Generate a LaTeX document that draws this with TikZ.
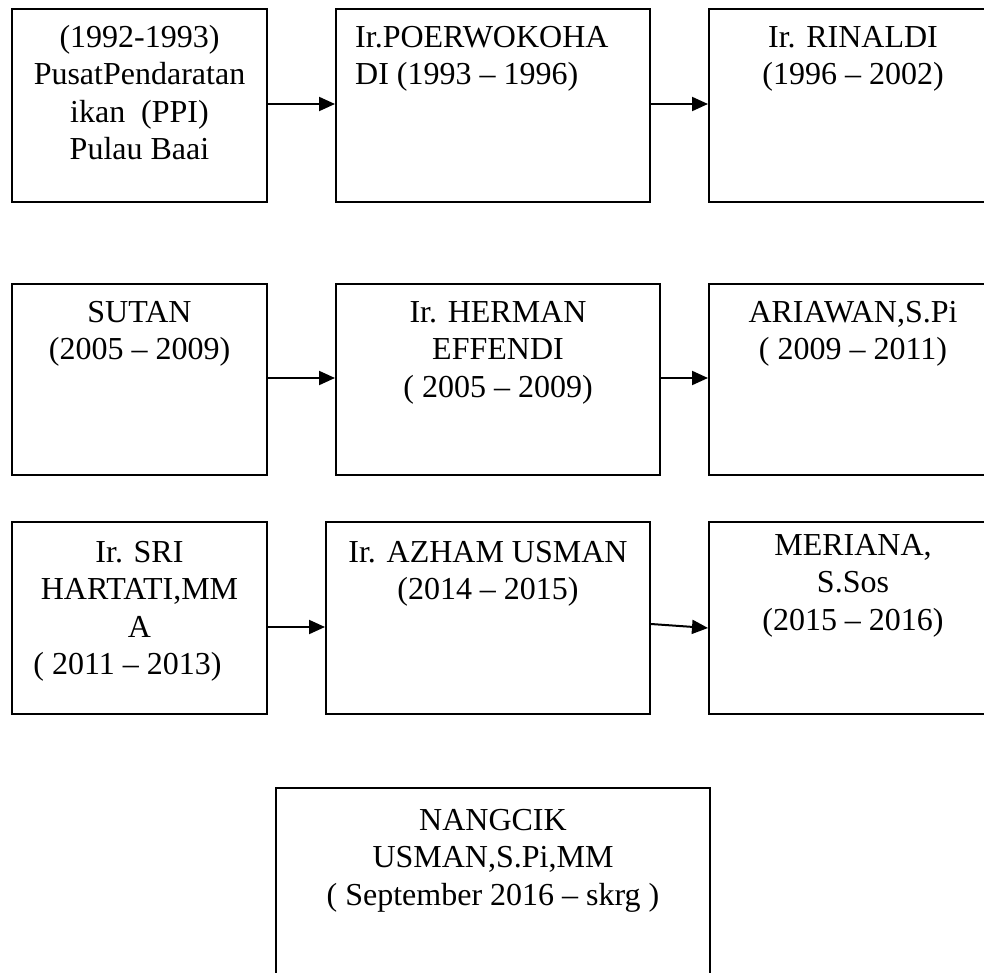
\documentclass[tikz,border=0pt]{standalone}
\usepackage{fontspec}
\setmainfont{Liberation Serif}
\usetikzlibrary{arrows.meta,calc}
\tikzset{
  box/.style={draw=black, line width=2pt, anchor=north west, inner sep=0pt, rectangle},
  txt/.style={inner sep=0pt, anchor=north, align=center, font=\fontsize{32}{37.5}\selectfont},
  arr/.style={draw=black, line width=2pt, -{Triangle[length=16pt,width=14pt]}},
}
\begin{document}
\begin{tikzpicture}[x=1pt,y=-1pt]
\useasboundingbox (0,0) rectangle (984,973);
\clip (0,0) rectangle (984,973);
% boxes
\node[box, minimum width=255pt, minimum height=193pt] (b1) at (11,8) {};
\node[box, minimum width=314pt, minimum height=193pt] (b2) at (335,8) {};
\node[box, minimum width=288pt, minimum height=193pt] (b3) at (708,8) {};
\node[box, minimum width=255pt, minimum height=191pt] (b4) at (11,283) {};
\node[box, minimum width=324pt, minimum height=191pt] (b5) at (335,283) {};
\node[box, minimum width=288pt, minimum height=191pt] (b6) at (708,283) {};
\node[box, minimum width=255pt, minimum height=192pt] (b7) at (11,521) {};
\node[box, minimum width=324pt, minimum height=192pt] (b8) at (325,521) {};
\node[box, minimum width=288pt, minimum height=192pt] (b9) at (708,521) {};
\node[box, minimum width=434pt, minimum height=210pt] (b10) at (275,787) {};
% texts
\node[txt] (t1) at ($(b1.north)+(0,13)$) {\strut(1992-1993)\\PusatPendaratan\\ikan~ (PPI)\\Pulau Baai};
\node[txt, anchor=north west, align=left] (t2) at (355,21) {\strut Ir.POERWOKOHA\\DI (1993 \textendash{} 1996)};
\node[txt] (t3) at ($(b3.north)+(0,13)$) {\strut Ir. RINALDI\\(1996 \textendash{} 2002)};
\node[txt] (t4) at ($(b4.north)+(0,13)$) {\strut SUTAN\\(2005 \textendash{} 2009)};
\node[txt] (t5) at ($(b5.north)+(0,13)$) {\strut Ir. HERMAN\\EFFENDI\\( 2005 \textendash{} 2009)};
\node[txt] (t6) at ($(b6.north)+(0,13)$) {\strut ARIAWAN,S.Pi\\( 2009 \textendash{} 2011)};
\node[txt] (t7) at ($(b7.north)+(0,15)$) {\strut Ir. SRI\\HARTATI,MM\\A\\( 2011 \textendash{} 2013)\hspace*{24pt}};
\node[txt] (t8) at ($(b8.north)+(0,15)$) {\strut Ir. AZHAM USMAN\\(2014 \textendash{} 2015)};
\node[txt] (t9) at ($(b9.north)+(0,8)$) {\strut MERIANA,\\S.Sos\\(2015 \textendash{} 2016)};
\node[txt] (t10) at ($(b10.north)+(0,17)$) {\strut NANGCIK\\USMAN,S.Pi,MM\\( September 2016 \textendash{} skrg )};
% arrows
\draw[arr] ($(b1.east)+(0,-1.5)$) -- ($(b2.west)+(0,-1.5)$);
\draw[arr] ($(b2.east)+(0,-1.5)$) -- ($(b3.west)+(0,-1.5)$);
\draw[arr] ($(b4.east)+(0,-1.5)$) -- ($(b5.west)+(0,-1.5)$);
\draw[arr] ($(b5.east)+(0,-1.5)$) -- ($(b6.west)+(0,-1.5)$);
\draw[arr] ($(b7.east)+(0,9)$) -- ($(b8.west)+(0,9)$);
\draw[arr] ($(b8.east)+(0,6)$) -- ($(b9.west)+(0,10)$);
\end{tikzpicture}
\end{document}
